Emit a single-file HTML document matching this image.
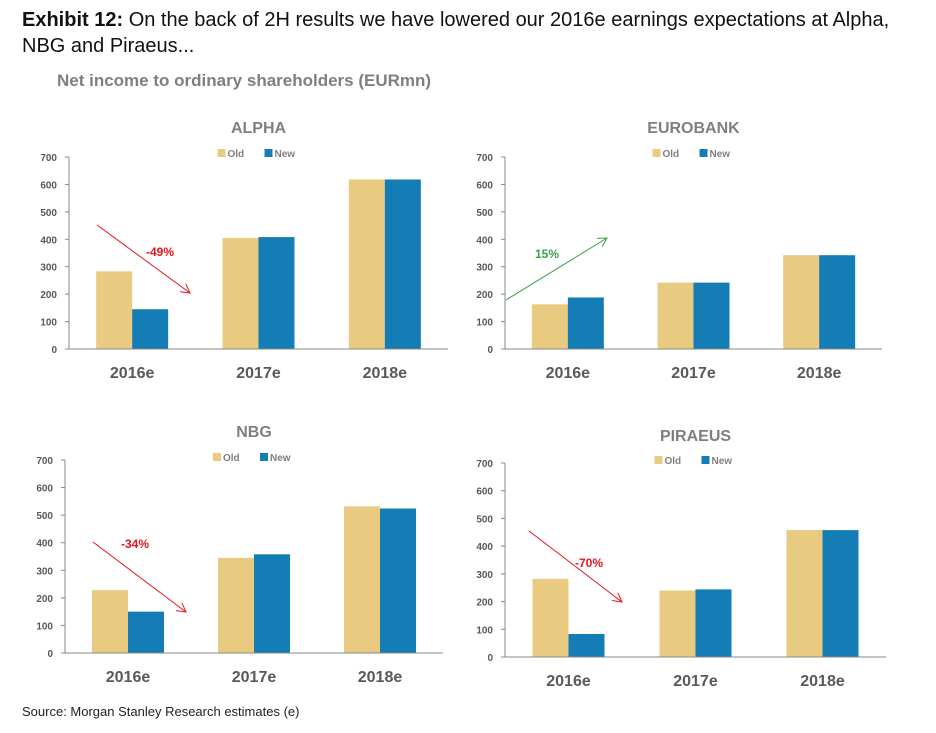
<!DOCTYPE html>
<html><head><meta charset="utf-8">
<style>
body{margin:0;background:#fff;width:936px;height:733px;overflow:hidden;font-family:"Liberation Sans",sans-serif;}
svg{position:absolute;left:0;top:0;}
</style></head>
<body>
<svg id="chart" width="936" height="733">
<text x="22" y="26" font-size="20" fill="#111"><tspan font-weight="bold">Exhibit 12:</tspan> On the back of 2H results we have lowered our 2016e earnings expectations at Alpha,</text>
<text x="22" y="52" font-size="20" fill="#111">NBG and Piraeus...</text>
<text x="57" y="86" font-size="17" font-weight="bold" fill="#7f7f7f">Net income to ordinary shareholders (EURmn)</text>
<text x="22" y="716" font-size="13" fill="#222">Source: Morgan Stanley Research estimates (e)</text>
</svg>
<script>
const categories = ["2016e","2017e","2018e"];
const yTicks = [0,100,200,300,400,500,600,700];
const bankNames = ["ALPHA","EUROBANK","NBG","PIRAEUS"];
const alphaOld = [283,405,618];
const alphaNew = [145,408,618];
const euroOld = [163,242,342];
const euroNew = [188,242,342];
const nbgOld = [228,345,532];
const nbgNew = [150,358,524];
const piraeusOld = [282,240,458];
const piraeusNew = [83,244,458];
const changeLabels = ["-49%","15%","-34%","-70%"];

const NS="http://www.w3.org/2000/svg";
const svg=document.getElementById('chart');
function mk(tag,attrs,parent){const e=document.createElementNS(NS,tag);for(const k in attrs)e.setAttribute(k,attrs[k]);(parent||svg).appendChild(e);return e;}

const panels=[
 {x0:69,x1:448,y0:349,y7:157,titleY:133,legY:153,old:alphaOld,nw:alphaNew,arrow:[97,225,190,293],lab:[160,256],color:"#e8141c"},
 {x0:505,x1:882,y0:349,y7:157,titleY:133,legY:153,old:euroOld,nw:euroNew,arrow:[506,300,607,238],lab:[547,258],color:"#3aa04a"},
 {x0:65,x1:443,y0:653,y7:460,titleY:437,legY:457,old:nbgOld,nw:nbgNew,arrow:[93,542,186,612],lab:[135,548],color:"#e8141c"},
 {x0:505,x1:886,y0:657,y7:463,titleY:441,legY:460,old:piraeusOld,nw:piraeusNew,arrow:[529,531,622,602],lab:[589,567],color:"#e8141c"}
];
const OLD="#e8cb80", NEW="#157db5";
mk('defs',{}).innerHTML='<marker id="ar" markerWidth="10" markerHeight="10" refX="9" refY="5" orient="auto" markerUnits="userSpaceOnUse"><path d="M0,0 L9,5 L0,10" fill="none" stroke="context-stroke" stroke-width="1"/></marker>';

panels.forEach((p,i)=>{
  const g=mk('g',{});
  
  
  const y=v=>p.y0-(v/700)*(p.y0-p.y7);
  const cw=(p.x1-p.x0)/3;
  const bw=36;
  const cx=(p.x0+p.x1)/2;
  const t=mk('text',{x:cx,y:p.titleY,'text-anchor':'middle','font-size':16,'font-weight':'bold',fill:'#7f7f7f'},g);
  t.textContent=bankNames[i];
  
  
  // legend
  const lx=cx-41;
  const l1=mk('g',{},g);
  
  
  mk('rect',{x:lx,y:p.legY-4,width:8,height:8,fill:OLD},l1);
  mk('text',{x:lx+10,y:p.legY+4,'font-size':10,'font-weight':'bold',fill:'#7f7f7f'},l1).textContent='Old';
  const l2=mk('g',{},g);
  
  
  mk('rect',{x:lx+47,y:p.legY-4,width:8,height:8,fill:NEW},l2);
  mk('text',{x:lx+57,y:p.legY+4,'font-size':10,'font-weight':'bold',fill:'#7f7f7f'},l2).textContent='New';
  // y axis
  const ax=mk('line',{x1:p.x0,y1:p.y7,x2:p.x0,y2:p.y0,stroke:'#888','stroke-width':1},g);
  
  
  yTicks.forEach(v=>{
    mk('line',{x1:p.x0-4,y1:y(v),x2:p.x0,y2:y(v),stroke:'#888'},g);
    const tt=mk('text',{x:p.x0-12,y:y(v)+4,'text-anchor':'end','font-size':10,'font-weight':'bold',fill:'#595959'},g);
    tt.textContent=v;
    
    
  });
  categories.forEach((c,j)=>{
    const gc=p.x0+cw*j+cw/2;
    const b1=mk('rect',{x:gc-bw,y:y(p.old[j]),width:bw,height:p.y0-y(p.old[j]),fill:OLD},g);
    
    
    const b2=mk('rect',{x:gc,y:y(p.nw[j]),width:bw,height:p.y0-y(p.nw[j]),fill:NEW},g);
    
    
    const ct=mk('text',{x:gc,y:p.y0+29,'text-anchor':'middle','font-size':16,'font-weight':'bold',fill:'#595959'},g);
    ct.textContent=c;
    
    
  });
  const xa=mk('line',{x1:p.x0,y1:p.y0,x2:p.x1,y2:p.y0,stroke:'#888','stroke-width':1},g);
  
  
  const a=p.arrow;
  const arr=mk('line',{x1:a[0],y1:a[1],x2:a[2],y2:a[3],stroke:p.color,'stroke-width':1,'marker-end':'url(#ar)'},g);
  
  
  const cl=mk('text',{x:p.lab[0],y:p.lab[1],'text-anchor':'middle','font-size':12,'font-weight':'bold',fill:p.color},g);
  cl.textContent=changeLabels[i];
  
  
});
</script>
</body></html>
